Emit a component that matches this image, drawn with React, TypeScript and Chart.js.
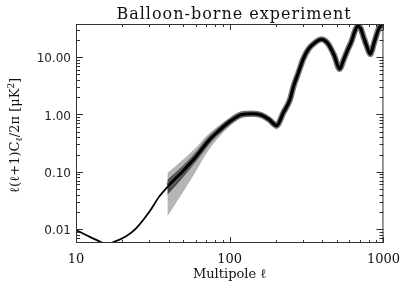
import { useEffect, useRef } from "react";
import { Chart, registerables } from "chart.js";

Chart.register(...registerables);

// ---- data ----
const ell = [10, 12.3, 14, 15.8, 18, 21.2, 24.6, 30, 34.8, 40, 50, 60, 73, 85, 100, 120, 140, 160, 180, 202, 223, 247, 260, 280, 300, 325, 360, 395, 430, 450, 480, 518, 550, 586, 620, 650, 680, 710, 740, 780, 820, 870, 930, 1000];
const power = [0.0096, 0.0073, 0.0062, 0.0055, 0.0061, 0.0075, 0.0103, 0.02, 0.037, 0.057, 0.105, 0.18, 0.35, 0.52, 0.75, 1.0, 1.03, 0.98, 0.82, 0.64, 1.07, 1.85, 3.1, 5.4, 9.2, 13.8, 18.1, 20.5, 18, 15, 10.5, 6.2, 8.9, 13.6, 19, 28, 35, 32, 23, 15.4, 11.3, 18, 31, 40];

const bandEll = [39.3, 50, 60, 73, 85, 100, 120, 140, 160, 180, 202, 223, 247];
const outerHi = [0.095, 0.165, 0.26, 0.46, 0.64, 0.88, 1.15, 1.17, 1.1, 0.93, 0.74, 1.2, 2.05];
const outerLo = [0.0166, 0.045, 0.1, 0.24, 0.4, 0.62, 0.87, 0.9, 0.86, 0.72, 0.55, 0.95, 1.65];
const innerHi = [0.072, 0.13, 0.22, 0.41, 0.59, 0.84, 1.1, 1.12, 1.07, 0.9, 0.71, 1.15, 1.97];
const innerLo = [0.0395, 0.082, 0.148, 0.3, 0.46, 0.67, 0.92, 0.95, 0.91, 0.76, 0.58, 1.0, 1.75];

const xTickValues = [10, 100, 1000];
const xTickLabels = ["10", "100", "1000"];
const yTickValues = [0.01, 0.1, 1, 10];
const yTickLabels = ["0.01", "0.10", "1.00", "10.00"];

const titleText = "Balloon-borne experiment";
const xTitleText = "Multipole ℓ";
const X_MIN = 10;
const X_MAX = 1000;
const Y_MIN = 0.0057;
const Y_MAX = 38;

function minorValues(min: number, max: number) {
  const out: { v: number; major: boolean }[] = [];
  const e0 = Math.floor(Math.log10(min));
  const e1 = Math.ceil(Math.log10(max));
  for (let e = e0; e <= e1; e++) {
    for (let m = 1; m <= 9; m++) {
      const v = m * Math.pow(10, e);
      if (v >= min * 0.9999 && v <= max * 1.0001) out.push({ v, major: m === 1 });
    }
  }
  return out;
}

const framePlugin = {
  id: "frame",
  afterDraw(chart: any) {
    const { ctx, chartArea: a, scales } = chart;
    const xs = scales.x;
    const ys = scales.y;
    ctx.save();
    ctx.strokeStyle = "#333";
    ctx.lineWidth = 1;
    ctx.strokeRect(a.left + 0.5, a.top + 0.5, a.right - a.left - 1, a.bottom - a.top - 1);
    ctx.beginPath();
    for (const t of minorValues(X_MIN, X_MAX)) {
      const px = Math.round(xs.getPixelForValue(t.v)) + 0.5;
      const len = t.major ? 6 : 3;
      ctx.moveTo(px, a.bottom);
      ctx.lineTo(px, a.bottom - len);
      ctx.moveTo(px, a.top);
      ctx.lineTo(px, a.top + len);
    }
    for (const t of minorValues(Y_MIN, Y_MAX)) {
      const py = Math.round(ys.getPixelForValue(t.v)) + 0.5;
      const len = t.major ? 7 : 4;
      ctx.moveTo(a.left, py);
      ctx.lineTo(a.left + len, py);
      ctx.moveTo(a.right, py);
      ctx.lineTo(a.right - len, py);
    }
    ctx.stroke();

    // title
    ctx.fillStyle = "#111";
    ctx.font = '16px "DejaVu Serif"';
    (ctx as any).letterSpacing = "1px";
    ctx.textAlign = "center";
    ctx.textBaseline = "alphabetic";
    ctx.fillText(titleText, 234, 19);

    // x title
    (ctx as any).letterSpacing = "0px";
    ctx.font = '13px "DejaVu Serif"';
    ctx.fillText(xTitleText, (a.left + a.right) / 2, 278);

    // y title (rotated, with sub/superscripts)
    const parts: { t: string; size: number; dy: number }[] = [
      { t: "ℓ(ℓ+1)C", size: 13, dy: 0 },
      { t: "ℓ", size: 9, dy: 3 },
      { t: "/2π [μK", size: 13, dy: 0 },
      { t: "2", size: 9, dy: -5 },
      { t: "]", size: 13, dy: 0 },
    ];
    let total = 0;
    for (const p of parts) {
      ctx.font = `${p.size}px "DejaVu Serif"`;
      total += ctx.measureText(p.t).width;
    }
    ctx.translate(19, (a.top + a.bottom) / 2 + 2);
    ctx.rotate(-Math.PI / 2);
    ctx.textAlign = "left";
    let x = -total / 2;
    for (const p of parts) {
      ctx.font = `${p.size}px "DejaVu Serif"`;
      ctx.fillText(p.t, x, p.dy);
      x += ctx.measureText(p.t).width;
    }
    ctx.restore();
  },
};

export default function App() {
  const ref = useRef<HTMLCanvasElement>(null);
  useEffect(() => {
    document.body.style.margin = "0";
    const canvas = ref.current!;
    const mainData = ell.map((x, i) => ({ x, y: power[i] }));
    const haloData = mainData.filter((p) => p.x >= 40);
    const band = (arr: number[]) => bandEll.map((x, i) => ({ x, y: arr[i] }));
    const common = { pointRadius: 0, cubicInterpolationMode: "monotone" as const, clip: 0 };
    const chart = new Chart(canvas, {
      type: "line",
      data: {
        datasets: [
          {
            label: "model",
            data: mainData,
            borderColor: "#000",
            borderWidth: 2,
            segment: { borderWidth: (c: any) => (c.p0.parsed.x >= 39 ? 3.2 : 1.8) },
            fill: false,
            ...common,
          } as any,
          { label: "halo", data: haloData, borderColor: "rgba(105,105,105,0.9)", borderWidth: 6, fill: false, ...common },
          { label: "1σ upper", data: band(innerHi), borderColor: "transparent", backgroundColor: "#4a4a4a", fill: 3, ...common },
          { label: "1σ lower", data: band(innerLo), borderColor: "transparent", fill: false, ...common },
          { label: "2σ upper", data: band(outerHi), borderColor: "transparent", backgroundColor: "#b5b5b5", fill: 5, ...common },
          { label: "2σ lower", data: band(outerLo), borderColor: "transparent", fill: false, ...common },
        ],
      },
      options: {
        animation: false,
        responsive: false,
        maintainAspectRatio: false,
        events: [],
        layout: { padding: { top: 24, right: 23, left: 0, bottom: 0 } },
        plugins: { legend: { display: false }, tooltip: { enabled: false }, title: { display: false } },
        scales: {
          x: {
            type: "logarithmic",
            min: X_MIN,
            max: X_MAX,
            grid: { display: false, drawTicks: false },
            border: { display: false },
            afterBuildTicks: (ax: any) => {
              ax.ticks = xTickValues.map((v) => ({ value: v }));
            },
            afterFit: (ax: any) => {
              ax.height = 49;
            },
            ticks: {
              autoSkip: false,
              maxRotation: 0,
              padding: 9,
              color: "#111",
              font: { family: "DejaVu Serif", size: 13 },
              callback: (_v: any, i: number) => xTickLabels[i],
            },
          },
          y: {
            type: "logarithmic",
            min: Y_MIN,
            max: Y_MAX,
            grid: { display: false, drawTicks: false },
            border: { display: false },
            afterBuildTicks: (ax: any) => {
              ax.ticks = yTickValues.map((v) => ({ value: v }));
            },
            afterFit: (ax: any) => {
              ax.width = 76;
            },
            ticks: {
              autoSkip: false,
              padding: 5,
              labelOffset: 2,
              color: "#222",
              font: { family: "DejaVu Sans", size: 12 },
              callback: (_v: any, i: number) => yTickLabels[i],
            },
          },
        },
      },
      plugins: [framePlugin],
    } as any);
    return () => chart.destroy();
  }, []);
  return (
    <div style={{ position: "fixed", left: 0, top: 0, width: 409, height: 292, background: "#fff" }}>
      <canvas ref={ref} width={409} height={292} style={{ display: "block", width: 409, height: 292 }} />
    </div>
  );
}
